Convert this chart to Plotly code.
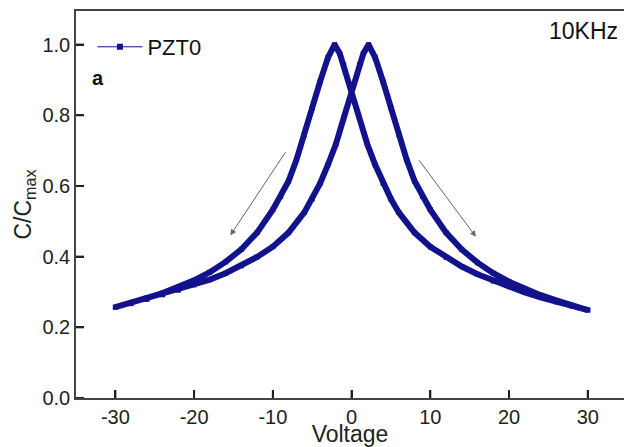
import plotly.graph_objects as go

# Down sweep (+30 V -> -30 V), peak near -2.2 V
volt_down = [30, 28, 26, 24, 22, 20, 18, 16, 14, 12, 10, 8, 6, 5, 4, 3, 2, 1, 0,
             -1, -1.5, -2.16, -3, -4, -5, -6, -7, -8, -9, -10, -12, -14, -16, -18,
             -20, -22, -24, -26, -28, -30]
cap_down = [0.249, 0.260, 0.272, 0.285, 0.299, 0.315, 0.331, 0.350, 0.372, 0.398,
            0.428, 0.468, 0.525, 0.563, 0.607, 0.660, 0.718, 0.792, 0.866,
            0.943, 0.975, 1.000, 0.963, 0.895, 0.820, 0.745, 0.674, 0.614, 0.570,
            0.533, 0.468, 0.421, 0.385, 0.356, 0.333, 0.313, 0.297, 0.283, 0.270, 0.257]

# Up sweep (-30 V -> +30 V), peak near +2.2 V
volt_up = [-30, -28, -26, -24, -22, -20, -18, -16, -14, -12, -10, -8, -6, -5, -4, -3,
           -2, -1, 0, 1, 1.5, 2.16, 3, 4, 5, 6, 7, 8, 9, 10, 12, 14, 16, 18, 20,
           22, 24, 26, 28, 30]
cap_up = [0.257, 0.267, 0.279, 0.292, 0.305, 0.320, 0.335, 0.353, 0.374, 0.399,
          0.428, 0.468, 0.525, 0.563, 0.607, 0.660, 0.718, 0.792, 0.866,
          0.943, 0.975, 1.000, 0.963, 0.895, 0.820, 0.745, 0.674, 0.614, 0.570,
          0.533, 0.468, 0.420, 0.383, 0.353, 0.329, 0.308, 0.291, 0.276, 0.262, 0.249]

x_ticks = [-30, -20, -10, 0, 10, 20, 30]
x_ticklabels = ["-30", "-20", "-10", "0", "10", "20", "30"]
y_ticks = [0.0, 0.2, 0.4, 0.6, 0.8, 1.0]
y_ticklabels = ["0.0", "0.2", "0.4", "0.6", "0.8", "1.0"]

series_name = "PZT0"
freq_label = "10KHz"
panel_label = "a"

NAVY = "#12128c"
FONT = "Arial, Liberation Sans, sans-serif"
W, H = 624, 447
ML, MR, MT, MB = 76, 0, 11, 49
TICK_PX = 8

fig = go.Figure()
fig.add_trace(go.Scatter(
    x=volt_down + volt_up, y=cap_down + cap_up,
    mode="lines+markers",
    line=dict(color=NAVY, width=6),
    marker=dict(symbol="square", size=5, color=NAVY),
    showlegend=False,
))
# legend entry (thin line with square marker as in reference)
fig.add_trace(go.Scatter(
    x=[None], y=[None], name=series_name,
    mode="lines+markers",
    line=dict(color=NAVY, width=1),
    marker=dict(symbol="square", size=6, color=NAVY),
))

fig.add_annotation(x=-15.4, y=0.46, ax=-8.26, ay=0.70, xref="x", yref="y",
                   axref="x", ayref="y", showarrow=True, arrowhead=2,
                   arrowsize=1.2, arrowwidth=1, arrowcolor="#666666", text="")
fig.add_annotation(x=15.8, y=0.456, ax=8.42, ay=0.677, xref="x", yref="y",
                   axref="x", ayref="y", showarrow=True, arrowhead=2,
                   arrowsize=1.2, arrowwidth=1, arrowcolor="#666666", text="")

fig.add_annotation(x=0.026, y=0.826, xref="paper", yref="paper", text="<b>" + panel_label + "</b>",
                   showarrow=False, xanchor="left", yanchor="middle",
                   font=dict(family=FONT, size=20, color="#111"))
fig.add_annotation(x=0.993, y=0.948, xref="paper", yref="paper", text=freq_label,
                   showarrow=False, xanchor="right", yanchor="middle",
                   font=dict(family=FONT, size=23, color="#111"))

# inward tick marks at the tick positions
plot_w = W - ML - MR
plot_h = H - MT - MB
for v in x_ticks:
    fig.add_shape(type="line", xref="x", yref="paper", x0=v, x1=v, y0=0, y1=TICK_PX / plot_h,
                  line=dict(color="#222222", width=2), layer="above")
for v in y_ticks:
    fig.add_shape(type="line", xref="paper", yref="y", x0=0, x1=TICK_PX / plot_w, y0=v, y1=v,
                  line=dict(color="#222222", width=2), layer="above")

axis_common = dict(ticks="inside", ticklen=TICK_PX, tickwidth=2, tickcolor="#222222",
                   showline=True, linecolor="#444444", linewidth=1.5,
                   showgrid=False, zeroline=False, automargin=False)

fig.update_layout(
    width=W, height=H,
    margin=dict(l=ML, r=MR, t=MT, b=MB),
    paper_bgcolor="white", plot_bgcolor="white",
    font=dict(family=FONT, size=20, color="#222"),
    legend=dict(x=0.03, y=0.907, xanchor="left", yanchor="middle", itemwidth=45,
                bgcolor="rgba(0,0,0,0)", font=dict(family=FONT, size=22, color="#111")),
)
fig.update_xaxes(range=[-35, 34.6], tickmode="array", tickvals=x_ticks, ticktext=x_ticklabels,
                 mirror=True,
                 title=dict(text="Voltage", standoff=2,
                            font=dict(family=FONT, size=23, color="#222")),
                 **axis_common)
fig.update_yaxes(range=[0, 1.095], tickmode="array", tickvals=y_ticks, ticktext=y_ticklabels,
                 title=dict(text="C/C<sub>max</sub>", standoff=4,
                            font=dict(family=FONT, size=23, color="#222")),
                 **axis_common)

fig.write_html("out.html", config={"displayModeBar": False},
               post_script="document.body.style.margin='0px';document.body.style.overflow='hidden';")
